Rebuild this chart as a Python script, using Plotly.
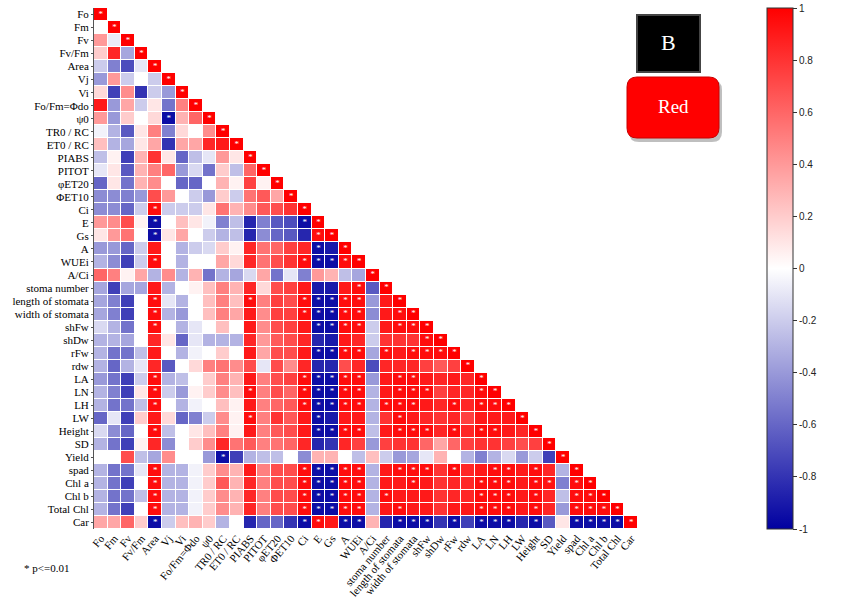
import plotly.graph_objects as go

labels = ["Fo", "Fm", "Fv", "Fv/Fm", "Area", "Vj", "Vi", "Fo/Fm=Φdo", "ψ0", "TR0 / RC",
          "ET0 / RC", "PIABS", "PITOT", "φET20", "ΦET10", "Ci", "E", "Gs", "A", "WUEi",
          "A/Ci", "stoma number", "length of stomata", "width of stomata", "shFw", "shDw",
          "rFw", "rdw", "LA", "LN", "LH", "LW", "Height", "SD", "Yield", "spad", "Chl a",
          "Chl b", "Total Chl", "Car"]

# lower-triangle correlation values, row j holds columns 0..j-1
r01 = [0.0]
r02 = [0.4, -0.08]
r03 = [0.2, 0.85, -0.35]
r04 = [-0.2, -0.5, -0.7, -0.1]
r05 = [-0.4, 0.4, -0.2, 0.0, -0.2]
r06 = [0.15, -0.75, 0.45, -0.8, -0.2, -0.4]
r07 = [0.9, -0.4, 0.35, -0.2, 0.1, -0.55, 0.5]
r08 = [0.4, -0.4, 0.2, 0.0, 0.15, -0.95, 0.3, 0.6]
r09 = [-0.05, -0.3, -0.65, 0.1, 0.5, -0.5, 0.15, 0.0, 0.45]
r10 = [0.25, -0.3, -0.35, 0.1, 0.35, -0.8, 0.35, 0.35, 0.85, 0.9]
r11 = [-0.25, 0.05, -0.75, 0.3, 0.8, 0.1, -0.6, -0.25, -0.1, 0.4, 0.1]
r12 = [-0.1, 0.1, -0.65, 0.3, 0.5, 0.6, -0.4, -0.15, -0.55, 0.2, -0.25, 0.6]
r13 = [-0.6, 0.1, -0.55, 0.3, 0.45, 0.0, -0.6, -0.6, 0.0, 0.3, 0.05, 0.75, 0.05]
r14 = [-0.45, -0.45, -0.5, -0.4, 0.7, 0.4, 0.0, -0.2, -0.4, 0.2, -0.2, 0.55, 0.65, 0.35]
r15 = [-0.45, -0.45, -0.6, -0.2, 0.95, -0.2, -0.2, -0.2, 0.1, 0.55, 0.3, 0.45, 0.65, 0.7, 0.8]
r16 = [0.4, 0.45, 0.7, 0.05, -0.95, 0.0, 0.25, 0.1, -0.05, -0.5, -0.25, -0.85, -0.5, -0.65, -0.7, -0.95]
r17 = [0.1, 0.4, 0.55, 0.0, -0.95, 0.1, 0.35, 0.0, -0.2, -0.3, -0.25, -0.85, -0.45, -0.6, -0.65, -0.85, 0.95]
r18 = [-0.4, -0.4, -0.6, -0.2, 0.9, 0.0, -0.3, -0.2, -0.15, 0.2, 0.05, 0.85, 0.55, 0.6, 0.75, 0.85, -0.95, -0.9]
r19 = [-0.3, -0.45, -0.75, -0.2, 0.95, 0.0, -0.3, 0.0, 0.0, 0.35, 0.15, 0.85, 0.55, 0.7, 0.8, 0.95, -0.95, -0.95, 0.95]
r20 = [0.6, 0.5, 0.05, 0.35, -0.3, 0.45, -0.3, 0.3, -0.55, -0.3, -0.35, -0.15, 0.35, -0.55, -0.1, -0.5, 0.4, 0.3, -0.25, -0.35]
r21 = [-0.35, -0.75, -0.35, -0.35, 0.9, -0.3, 0.0, 0.05, 0.25, 0.5, 0.3, 0.85, 0.15, 0.7, 0.75, 0.9, -0.9, -0.9, 0.9, 0.95, -0.65]
r22 = [-0.35, -0.5, -0.75, 0.0, 0.95, -0.1, -0.3, 0.0, 0.25, 0.5, 0.25, 0.95, 0.5, 0.75, 0.7, 0.95, -0.95, -0.95, 0.95, 0.95, -0.4, 0.9]
r23 = [-0.35, -0.5, -0.75, 0.0, 0.95, -0.3, -0.4, 0.0, 0.25, 0.5, 0.35, 0.9, 0.45, 0.75, 0.75, 0.95, -0.95, -0.95, 0.95, 0.95, -0.45, 0.9, 0.95]
r24 = [-0.15, -0.3, -0.55, 0.0, 0.95, 0.0, -0.3, -0.1, 0.0, 0.25, 0.0, 0.9, 0.45, 0.7, 0.75, 0.9, -0.95, -0.95, 0.95, 0.95, -0.2, 0.9, 0.95, 0.95]
r25 = [-0.3, -0.3, -0.35, 0.0, 0.85, 0.1, -0.6, -0.1, -0.3, -0.3, -0.3, 0.85, 0.4, 0.65, 0.7, 0.85, -0.85, -0.9, 0.9, 0.85, -0.2, 0.8, 0.8, 0.8, 0.95]
r26 = [-0.3, -0.55, -0.55, -0.25, 0.9, 0.0, -0.3, -0.05, 0.0, 0.2, 0.0, 0.9, 0.35, 0.7, 0.7, 0.9, -0.95, -0.95, 0.95, 0.95, -0.35, 0.95, 0.9, 0.95, 0.95, 0.95]
r27 = [-0.3, -0.6, -0.3, -0.1, 0.85, -0.65, 0.0, 0.15, 0.5, 0.55, 0.45, 0.7, -0.1, 0.7, 0.45, 0.85, -0.85, -0.85, 0.7, 0.85, -0.7, 0.85, 0.85, 0.85, 0.75, 0.65, 0.75]
r28 = [-0.4, -0.55, -0.75, -0.2, 0.95, -0.3, -0.25, 0.0, 0.2, 0.5, 0.3, 0.9, 0.5, 0.7, 0.75, 0.95, -0.95, -0.95, 0.95, 0.95, -0.4, 0.9, 0.95, 0.95, 0.9, 0.85, 0.9, 0.85]
r29 = [-0.3, -0.5, -0.75, 0.1, 0.95, -0.2, -0.4, 0.05, 0.2, 0.45, 0.25, 0.95, 0.5, 0.7, 0.6, 0.95, -0.95, -0.95, 0.95, 0.95, -0.3, 0.9, 0.95, 0.95, 0.95, 0.75, 0.85, 0.85, 0.95]
r30 = [-0.3, -0.55, -0.55, -0.25, 0.95, 0.0, -0.3, -0.05, 0.0, 0.25, 0.05, 0.9, 0.5, 0.6, 0.65, 0.95, -0.95, -0.95, 0.95, 0.95, -0.3, 0.95, 0.95, 0.95, 0.9, 0.85, 0.95, 0.85, 0.95, 0.95]
r31 = [-0.6, -0.1, -0.75, 0.2, 0.9, 0.15, -0.6, -0.5, -0.2, 0.45, 0.05, 0.95, 0.5, 0.8, 0.65, 0.9, -0.95, -0.9, 0.9, 0.9, -0.3, 0.8, 0.95, 0.9, 0.85, 0.8, 0.85, 0.75, 0.9, 0.9, 0.9]
r32 = [-0.15, -0.45, -0.6, 0.0, 0.95, -0.25, 0.0, 0.1, 0.25, 0.5, 0.05, 0.9, 0.5, 0.65, 0.7, 0.9, -0.95, -0.95, 0.95, 0.95, -0.25, 0.9, 0.95, 0.95, 0.95, 0.85, 0.95, 0.85, 0.95, 0.95, 0.9, 0.85]
r33 = [-0.3, -0.55, -0.75, 0.05, 0.85, -0.45, 0.0, 0.2, 0.45, 0.85, 0.55, 0.65, 0.5, 0.55, 0.6, 0.85, -0.85, -0.8, 0.85, 0.75, -0.4, 0.75, 0.8, 0.8, 0.6, 0.35, 0.6, 0.75, 0.8, 0.8, 0.75, 0.7, 0.75]
r34 = [0.0, 0.0, 0.7, -0.25, -0.35, 0.45, 0.0, 0.0, -0.4, -0.95, -0.75, -0.3, -0.25, -0.25, 0.0, -0.45, 0.3, 0.3, 0.0, -0.25, 0.25, -0.2, -0.4, -0.35, -0.1, 0.3, 0.0, -0.3, -0.5, -0.3, -0.15, -0.4, -0.2, -0.75]
r35 = [-0.3, -0.55, -0.55, -0.1, 0.95, -0.3, -0.3, -0.05, 0.2, 0.45, 0.3, 0.9, 0.5, 0.7, 0.7, 0.95, -0.95, -0.95, 0.95, 0.95, -0.3, 0.9, 0.95, 0.95, 0.95, 0.8, 0.95, 0.85, 0.9, 0.95, 0.95, 0.9, 0.95, 0.85, -0.3]
r36 = [-0.3, -0.55, -0.75, 0.0, 0.95, -0.3, -0.3, -0.05, 0.2, 0.65, 0.3, 0.85, 0.5, 0.7, 0.7, 0.95, -0.95, -0.95, 0.95, 0.95, -0.3, 0.9, 0.9, 0.95, 0.9, 0.8, 0.85, 0.85, 0.95, 0.95, 0.95, 0.9, 0.95, 0.93, -0.5, 0.95]
r37 = [-0.3, -0.55, -0.55, -0.25, 0.95, -0.3, -0.3, -0.05, 0.2, 0.45, 0.3, 0.85, 0.5, 0.7, 0.7, 0.95, -0.95, -0.95, 0.95, 0.95, -0.3, 0.95, 0.9, 0.9, 0.9, 0.8, 0.85, 0.85, 0.95, 0.95, 0.95, 0.9, 0.95, 0.85, -0.25, 0.95, 0.95]
r38 = [-0.3, -0.55, -0.75, 0.0, 0.95, -0.3, -0.3, -0.05, 0.2, 0.45, 0.3, 0.85, 0.5, 0.7, 0.7, 0.95, -0.95, -0.95, 0.95, 0.95, -0.3, 0.9, 0.95, 0.9, 0.9, 0.8, 0.9, 0.9, 0.95, 0.95, 0.95, 0.9, 0.95, 0.85, -0.4, 0.95, 0.95, 0.95]
r39 = [0.35, 0.35, 0.6, 0.2, -0.95, -0.2, 0.25, 0.3, 0.2, -0.3, 0.0, -0.85, -0.6, -0.6, -0.8, -0.95, 0.95, 0.9, -0.95, -0.95, 0.3, -0.85, -0.95, -0.95, -0.95, -0.8, -0.95, -0.75, -0.95, -0.95, -0.95, -0.85, -0.95, -0.65, 0.1, -0.95, -0.95, -0.95, -0.95]

rows = [[], r01, r02, r03, r04, r05, r06, r07, r08, r09, r10, r11, r12, r13, r14, r15, r16, r17, r18, r19,
        r20, r21, r22, r23, r24, r25, r26, r27, r28, r29, r30, r31, r32, r33, r34, r35, r36, r37, r38, r39]

star_threshold = 0.93  # |r| at which p <= 0.01
cbar_vals = [1, 0.8, 0.6, 0.4, 0.2, 0, -0.2, -0.4, -0.6, -0.8, -1]
cbar_text = ["1", "0.8", "0.6", "0.4", "0.2", "0", "-0.2", "-0.4", "-0.6", "-0.8", "-1"]

n = len(labels)
z = []
for j in range(n):
    vals = list(rows[j][:j]) + [1.0]
    z.append(vals + [None] * (n - len(vals)))

sx, sy = [], []
for j in range(n):
    for i in range(j + 1):
        v = z[j][i]
        if v is not None and abs(v) >= star_threshold:
            sx.append(i)
            sy.append(j)

W, H = 843, 601
ml, mr, mt, mb = 94, 205, 8, 72
pw, ph = W - ml - mr, H - mt - mb

def px(x):
    return (x - ml) / pw

def py(y):
    return (H - mb - y) / ph

def rrect(x0, y0, x1, y1, r):
    rx, ry = r / pw, r / ph
    X0, X1, Y0, Y1 = px(x0), px(x1), py(y1), py(y0)
    return (f"M {X0+rx},{Y0} L {X1-rx},{Y0} Q {X1},{Y0} {X1},{Y0+ry} "
            f"L {X1},{Y1-ry} Q {X1},{Y1} {X1-rx},{Y1} L {X0+rx},{Y1} "
            f"Q {X0},{Y1} {X0},{Y1-ry} L {X0},{Y0+ry} Q {X0},{Y0} {X0+rx},{Y0} Z")

fig = go.Figure()
fig.add_trace(go.Heatmap(
    z=z, x=list(range(n)), y=list(range(n)),
    zmin=-1, zmax=1,
    colorscale=[[0, "rgb(0,0,160)"], [0.5, "rgb(255,255,255)"], [1, "rgb(255,0,0)"]],
    xgap=1, ygap=1, hoverongaps=False,
    colorbar=dict(
        x=px(767), xanchor="left", xpad=0, y=0.5, yanchor="middle", ypad=0,
        len=1.0, lenmode="fraction", thickness=26,
        outlinewidth=1, outlinecolor="#333",
        tickvals=cbar_vals, ticktext=cbar_text,
        ticks="outside", ticklen=4, tickcolor="#333",
        tickfont=dict(family="Liberation Sans", size=10, color="#222"),
    ),
))
fig.add_trace(go.Scatter(
    x=sx, y=sy, mode="text", text=["*"] * len(sx),
    textposition="middle center",
    textfont=dict(family="Liberation Serif", size=9, color="white"),
    hoverinfo="skip", showlegend=False,
))

fig.update_xaxes(
    range=[-0.5, n - 0.5], tickmode="array", tickvals=list(range(n)), ticktext=labels,
    tickangle=-50, showgrid=False, zeroline=False, ticks="",
    tickfont=dict(family="Liberation Serif", size=11, color="black"),
)
fig.update_yaxes(
    range=[n - 0.5, -0.5], tickmode="array", tickvals=list(range(n)), ticktext=labels,
    showgrid=False, zeroline=False, showline=True, linecolor="#555", linewidth=1,
    ticks="outside", ticklen=2, tickcolor="#555",
    tickfont=dict(family="Liberation Serif", size=11, color="black"),
)

shapes = [
    # B box
    dict(type="rect", xref="paper", yref="paper", x0=px(637), x1=px(700), y0=py(72), y1=py(15),
         fillcolor="black", line=dict(color="#444", width=2)),
    # Red button shadow + body
    dict(type="path", xref="paper", yref="paper", path=rrect(629, 80, 722, 142, 10),
         fillcolor="rgba(0,0,0,0.25)", line=dict(width=0)),
    dict(type="path", xref="paper", yref="paper", path=rrect(627, 77, 719, 138, 10),
         fillcolor="rgb(255,0,0)", line=dict(color="rgb(200,0,0)", width=1)),
]

annotations = [
    dict(xref="paper", yref="paper", x=px(668.5), y=py(43), text="B", showarrow=False,
         font=dict(family="Liberation Serif", size=22, color="white"), xanchor="center", yanchor="middle"),
    dict(xref="paper", yref="paper", x=px(673), y=py(106), text="Red", showarrow=False,
         font=dict(family="Liberation Serif", size=19, color="white"), xanchor="center", yanchor="middle"),
    dict(xref="paper", yref="paper", x=px(22), y=py(568), text="* p<=0.01", showarrow=False,
         font=dict(family="Liberation Serif", size=11, color="black"), xanchor="left", yanchor="middle"),
]

fig.update_layout(
    width=W, height=H, margin=dict(l=ml, r=mr, t=mt, b=mb, autoexpand=False),
    paper_bgcolor="white", plot_bgcolor="white",
    shapes=shapes, annotations=annotations, showlegend=False,
)

fig.write_html("out.html")
